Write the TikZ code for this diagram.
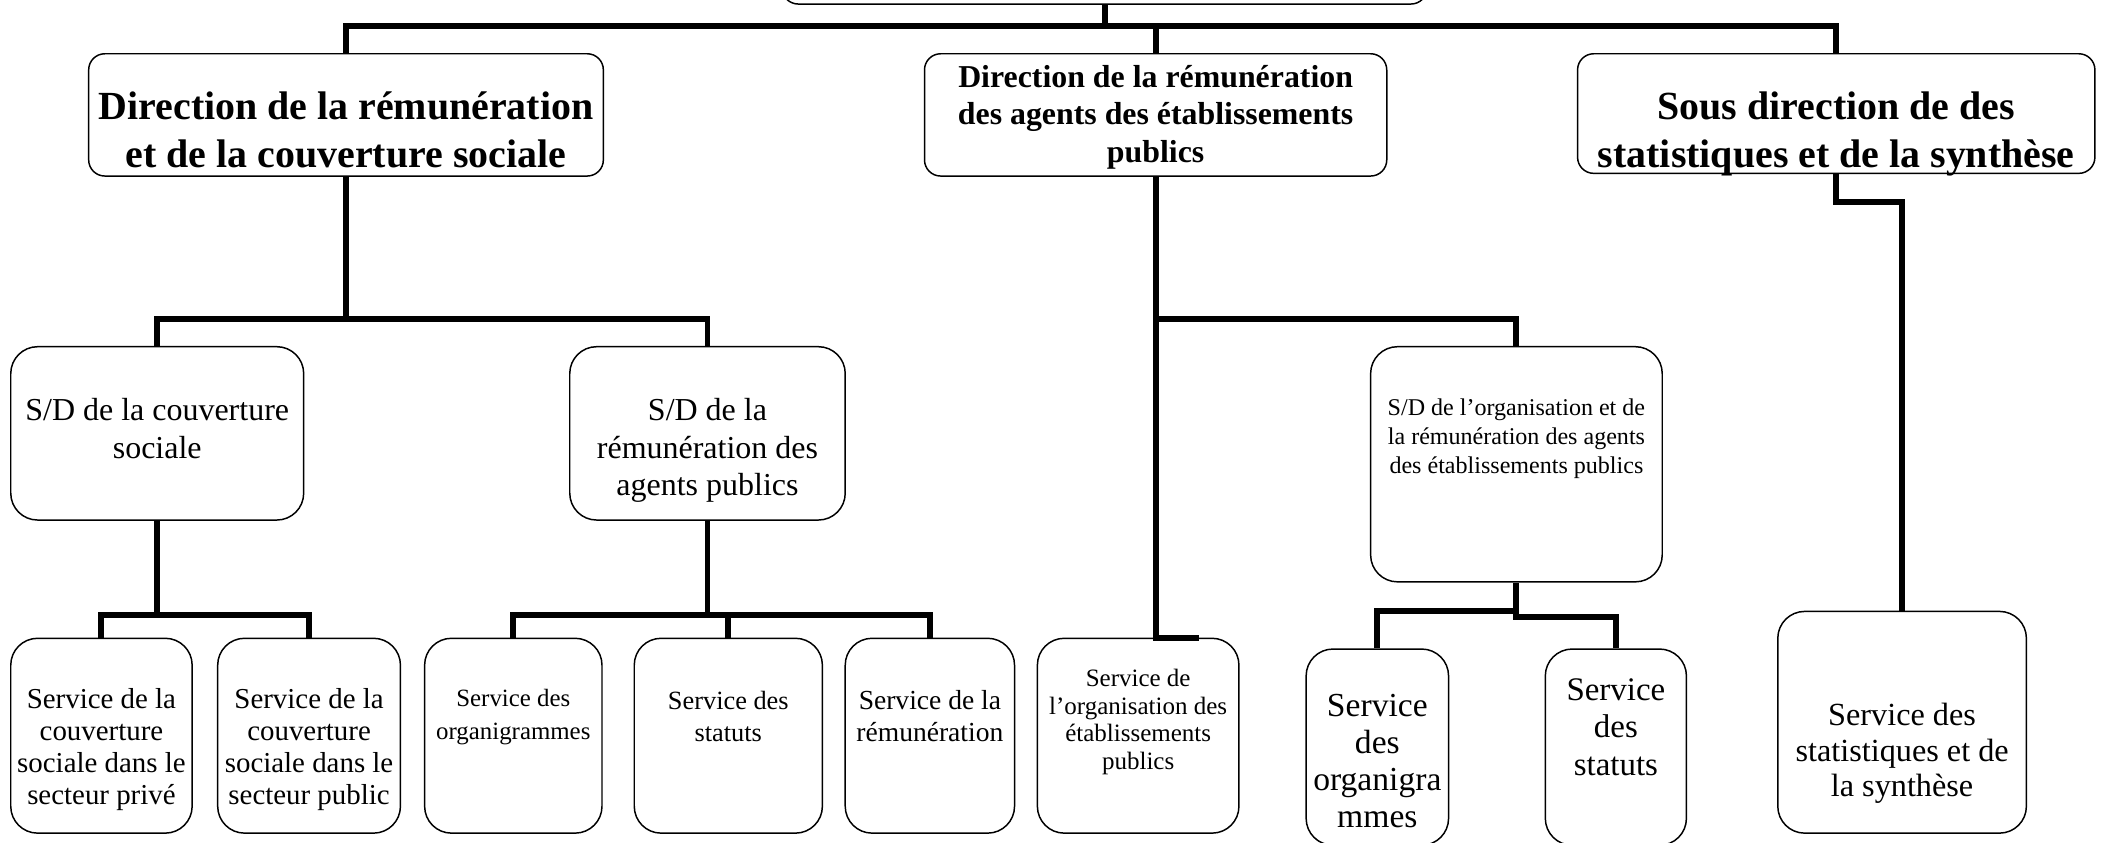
\documentclass[tikz,border=0pt]{standalone}
\usepackage{fontspec}
\setmainfont{Liberation Serif}

\begin{document}
\begin{tikzpicture}[x=1pt,y=-1pt,
  box/.style={draw,line width=1.1pt,rounded corners=20pt,align=center,inner xsep=2pt,inner ysep=2pt,text depth=0pt},
  headbox/.style={box,rounded corners=12pt,minimum height=91pt},
  conn/.style={line width=4.4pt},
  bigbold/.style={font=\fontsize{29.7}{36}\selectfont\bfseries},
  midbold/.style={font=\fontsize{23.7}{28}\selectfont\bfseries}]
   \useasboundingbox (0,0) rectangle (1568,627); % page

   % top level (cut by the page edge)
   \node[box,rounded corners=12pt,minimum width=480pt,minimum height=60pt] (top) at (822,-27) {};

   % directions
   \node[headbox,bigbold,minimum width=383pt,text height=79pt] (l1) at (257.5,85.5)
      {Direction de la rémunération\\et de la couverture sociale};
   \node[headbox,midbold,minimum width=344pt,text height=71pt] (m1) at (860,85.5)
      {Direction de la rémunération\\des agents des établissements\\publics};
   \node[headbox,bigbold,minimum width=385pt,minimum height=89pt,text height=81pt] (r1) at (1366.5,84.5)
      {Sous direction de des\\statistiques et de la synthèse};

   % sous directions
   \node[box,font=\fontsize{23.8}{28}\selectfont,minimum width=218pt,minimum height=129pt,text height=37pt] (l2a) at (117,322.5)
      {S/D de la couverture\\sociale};
   \node[box,font=\fontsize{23.8}{28}\selectfont,minimum width=205pt,minimum height=129pt,text height=93pt] (l2b) at (526.5,322.5)
      {S/D de la\\rémunération des\\agents publics};
   \node[box,font=\fontsize{17.9}{21.5}\selectfont,minimum width=217pt,minimum height=175pt,text height=13pt] (m2) at (1128.5,345.5)
      {S/D de l’organisation et de\\la rémunération des agents\\des établissements publics};

   % services
   \node[box,font=\fontsize{21.5}{24}\selectfont,minimum width=135pt,minimum height=145pt,text height=103pt] (l3a) at (75.5,547.5)
      {Service de la\\couverture\\sociale dans le\\secteur privé};
   \node[box,font=\fontsize{21.5}{24}\selectfont,minimum width=136pt,minimum height=145pt,text height=103pt] (l3b) at (230,547.5)
      {Service de la\\couverture\\sociale dans le\\secteur public};
   \node[box,font=\fontsize{18.5}{24}\selectfont,minimum width=132pt,minimum height=145pt,text height=5pt] (l3c) at (382,547.5)
      {Service des\\organigrammes};
   \node[box,font=\fontsize{19.6}{24}\selectfont,minimum width=140pt,minimum height=145pt,text height=9pt] (l3d) at (542,547.5)
      {Service des\\statuts};
   \node[box,font=\fontsize{20.5}{24}\selectfont,minimum width=126pt,minimum height=145pt,text height=9pt] (l3e) at (692,547.5)
      {Service de la\\rémunération};
   \node[box,font=\fontsize{18.6}{20.5}\selectfont,minimum width=150pt,minimum height=145pt,text height=50pt] (m3a) at (847,547.5)
      {Service de\\l’organisation des\\établissements\\publics};
   \node[box,font=\fontsize{25}{27.5}\selectfont,minimum width=106pt,minimum height=146pt,text height=119pt] (m3b) at (1025,556)
      {Service\\des\\organigra\\mmes};
   \node[box,font=\fontsize{24.5}{28}\selectfont,minimum width=105pt,minimum height=146pt,text height=42pt] (m3c) at (1202.5,556)
      {Service\\des\\statuts};
   \node[box,font=\fontsize{24}{26.5}\selectfont,minimum width=185pt,minimum height=165pt,text height=111pt] (r3) at (1415.5,537.5)
      {Service des\\statistiques et de\\la synthèse};

   % links
   \draw[conn] (top.south) -- ++(0,17); % top
   \draw[conn] (l1.north) -- ++(0,-20) -| (r1.north);
   \draw[conn] (m1.north) -- ++(0,-20);
   \draw[conn] (l1.south) -- ++(0,107); % left branch
   \draw[conn] (l2a.north) -- ++(0,-20) -| (l2b.north);
   \draw[conn] (l2a.south) -- ++(0,71);
   \draw[conn] (l3a.north) -- ++(0,-17) -| (l3b.north);
   \draw[conn] (l2b.south) -- ++(0,71);
   \draw[conn] (l3c.north) -- ++(0,-17) -| (l3e.north);
   \draw[conn] (l3d.north) -- ++(0,-17);
   \draw[conn] (m1.south) -- (m1.south |- m3a.north) -- ++(32,0); % middle branch
   \draw[conn] (m2.north) -- ++(0,-20) -| (m1.south);
   \draw[conn] (m3b.north) -- ++(0,-28) -| (m2.south);
   \draw[conn] (m3c.north) -- ++(0,-23) -| (m2.south);
   \draw[conn] (r1.south) -- ++(0,21) -| (r3.north); % right branch
\end{tikzpicture}
\end{document}
